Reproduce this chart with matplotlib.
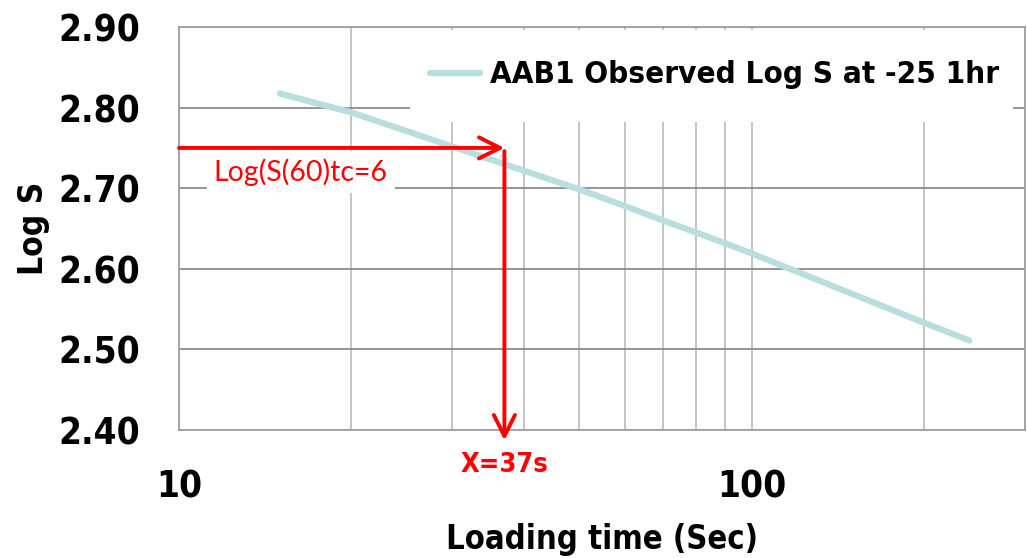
import matplotlib
matplotlib.use("Agg")
import matplotlib.pyplot as plt
from matplotlib.patches import Rectangle
from matplotlib.ticker import FixedLocator, NullFormatter

# values
time_s = [15, 20, 50, 60, 70, 80, 90, 100, 200, 240]
log_s = [2.8175, 2.794, 2.6985, 2.678, 2.660, 2.645, 2.6315, 2.619, 2.533, 2.511]
series_name = "AAB1 Observed Log S at -25 1hr"

y_ticks = [2.40, 2.50, 2.60, 2.70, 2.80, 2.90]
x_major = [10, 100]
x_minor = [20, 30, 40, 50, 60, 70, 80, 90, 200, 300]

hline_y = 2.75
x_found = 37

cond = "DejaVu Sans"
st = "condensed"

fig = plt.figure(figsize=(10.27, 5.58), dpi=100)
ax = fig.add_axes([0.1743, 0.2294, 0.8237, 0.7222])

ax.set_xscale("log")
ax.set_xlim(10, 300)
ax.set_ylim(2.40, 2.90)

ax.xaxis.set_major_locator(FixedLocator(x_major))
ax.xaxis.set_minor_locator(FixedLocator(x_minor))
ax.xaxis.set_minor_formatter(NullFormatter())
ax.set_xticklabels(["10", "100"])
ax.set_yticks(y_ticks)
ax.set_yticklabels([f"{v:.2f}" for v in y_ticks])

ax.grid(True, axis="y", color="#8c8c8c", lw=1.3)
ax.grid(True, axis="x", which="both", color="#bfbfbf", lw=1.3)
ax.set_axisbelow(True)
for s in ax.spines.values():
    s.set_color("#a0a0a0")
    s.set_linewidth(1.3)
ax.tick_params(which="both", length=0, pad=28)
for lab in ax.get_xticklabels() + ax.get_yticklabels():
    lab.set_family(cond)
    lab.set_stretch(st)
    lab.set_fontweight("heavy")
    lab.set_fontsize(26.5)

ax.plot(time_s, log_s, color="#b7dfe0", lw=4.5, solid_capstyle="round", label=series_name, zorder=3)

ax.set_xlabel("Loading time (Sec)", family=cond, stretch=st, fontweight="heavy",
              fontsize=23.5, labelpad=12)
ax.set_ylabel("Log S", family=cond, stretch=st, fontweight="heavy", fontsize=24, labelpad=6)

# red arrows
ax.annotate("", xy=(x_found, hline_y), xytext=(10, hline_y),
            arrowprops=dict(arrowstyle="->", color="red", lw=2.8, mutation_scale=38,
                            shrinkA=0, shrinkB=0), zorder=5)
ax.annotate("", xy=(x_found, 2.387), xytext=(x_found, 2.746),
            arrowprops=dict(arrowstyle="->", color="red", lw=2.8, mutation_scale=38,
                            shrinkA=0, shrinkB=0), annotation_clip=False, zorder=5)

ax.text(11.5, 2.72, "Log(S(60)tc=6", color="red", fontsize=20.5, family="Lato",
        va="center", ha="left", zorder=4,
        bbox=dict(facecolor="white", edgecolor="none", pad=5))
ax.text(x_found, 2.357, f"X={x_found}s", color="red", fontsize=19.5, family=cond, stretch=st,
        fontweight="heavy", ha="center", va="center", clip_on=False)

# white legend background covering the grid
ax.add_patch(Rectangle((0.273, 0.764), 0.713, 0.229, transform=ax.transAxes,
                       facecolor="white", edgecolor="none", zorder=1))
leg = ax.legend(loc="center right", bbox_to_anchor=(0.97, 0.881), frameon=False,
                handlelength=1.6, handletextpad=0.35, borderpad=0, borderaxespad=0,
                prop=dict(family=cond, stretch=st, weight="heavy", size=22.5))

fig.savefig("out.png", dpi=100)
